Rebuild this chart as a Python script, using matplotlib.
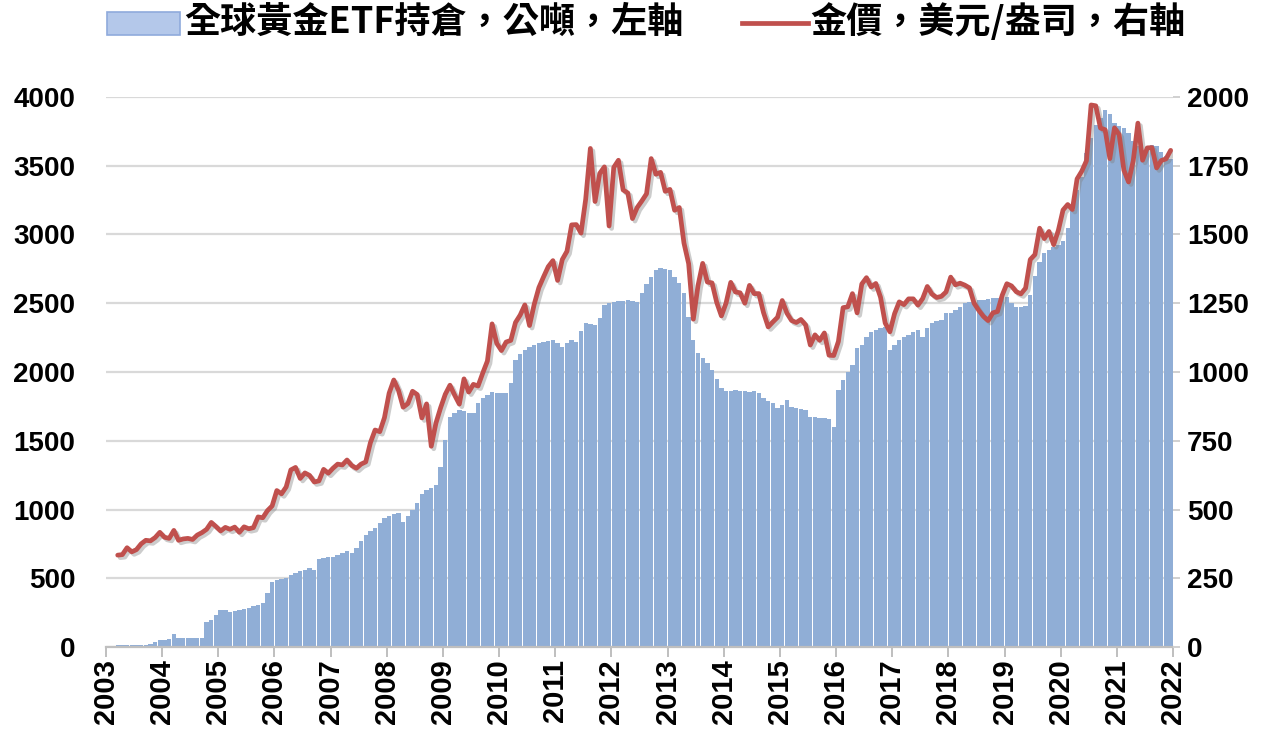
import matplotlib
matplotlib.use("Agg")
import matplotlib.pyplot as plt
import matplotlib.patheffects as pe
from matplotlib.patches import Rectangle
from matplotlib.lines import Line2D
import numpy as np

# ---------------------------------------------------------------
# data (monthly)
# ---------------------------------------------------------------
year_labels = [str(y) for y in range(2003, 2023)]

# global gold ETF holdings, tonnes, monthly from Feb 2003
etf_start_month = 1   # months after Jan 2003
etf_holdings = [
    8, 12, 14, 15, 15, 15, 15, 15, 20, 40, 48,                          # 2003
    50, 55, 95, 68, 65, 65, 65, 65, 68, 184, 200, 233,                  # 2004
    270, 268, 257, 262, 270, 278, 285, 295, 305, 320, 393, 475,         # 2005
    485, 495, 500, 524, 540, 550, 560, 573, 560, 640, 650, 655,         # 2006
    657, 670, 685, 700, 684, 720, 770, 815, 845, 865, 900, 938,         # 2007
    950, 965, 975, 911, 950, 996, 1047, 1110, 1140, 1156, 1178, 1311,   # 2008
    1505, 1675, 1700, 1724, 1720, 1705, 1700, 1773, 1810, 1833, 1857, 1850,  # 2009
    1845, 1850, 1918, 2087, 2130, 2160, 2180, 2196, 2210, 2221, 2228, 2233,  # 2010
    2210, 2184, 2210, 2233, 2221, 2300, 2356, 2350, 2342, 2390, 2487, 2500,  # 2011
    2512, 2518, 2520, 2524, 2518, 2512, 2575, 2640, 2694, 2740, 2754, 2750,  # 2012
    2742, 2690, 2645, 2575, 2400, 2230, 2140, 2100, 2065, 2015, 1950, 1884,  # 2013
    1865, 1860, 1870, 1865, 1860, 1855, 1860, 1845, 1811, 1790, 1773, 1738,  # 2014
    1760, 1796, 1748, 1740, 1730, 1724, 1675, 1670, 1665, 1665, 1660, 1602,  # 2015
    1869, 1942, 2000, 2051, 2173, 2200, 2254, 2290, 2305, 2320, 2330, 2160,  # 2016
    2200, 2233, 2254, 2270, 2290, 2305, 2254, 2320, 2356, 2370, 2378, 2429,  # 2017
    2430, 2450, 2473, 2500, 2510, 2520, 2524, 2524, 2530, 2540, 2540, 2545,  # 2018
    2548, 2500, 2476, 2476, 2480, 2560, 2700, 2800, 2865, 2890, 2911, 2920,  # 2019
    2950, 3050, 3178, 3323, 3420, 3590, 3700, 3800, 3850, 3905, 3880, 3811,  # 2020
    3790, 3775, 3740, 3680, 3640, 3600, 3620, 3650, 3640, 3600, 3570, 3550,  # 2021
]

# gold price, USD/oz, monthly from Mar 2003
gold_start_month = 2
gold_price = [
    334, 336, 361, 346, 354, 375, 388, 386, 398, 417,                   # 2003
    399, 395, 424, 388, 393, 395, 391, 407, 416, 428, 453, 438,         # 2004
    422, 435, 428, 436, 417, 437, 430, 434, 473, 470, 496, 513,         # 2005
    569, 557, 582, 644, 653, 613, 633, 624, 600, 604, 646, 632,         # 2006
    650, 665, 662, 680, 660, 650, 665, 673, 743, 789, 783, 834,         # 2007
    923, 971, 933, 872, 885, 930, 918, 833, 884, 730, 814, 870,         # 2008
    919, 952, 916, 883, 975, 927, 955, 949, 996, 1040, 1175, 1104,      # 2009
    1078, 1109, 1115, 1180, 1207, 1244, 1169, 1246, 1307, 1346, 1383, 1405,  # 2010
    1333, 1409, 1439, 1535, 1536, 1505, 1628, 1813, 1620, 1722, 1746, 1531,  # 2011
    1744, 1770, 1662, 1651, 1558, 1598, 1622, 1648, 1776, 1719, 1726, 1657,  # 2012
    1664, 1588, 1598, 1469, 1394, 1192, 1314, 1395, 1327, 1324, 1253, 1204,  # 2013
    1251, 1326, 1291, 1288, 1250, 1315, 1285, 1285, 1216, 1164, 1182, 1199,  # 2014
    1260, 1214, 1187, 1180, 1191, 1171, 1098, 1135, 1115, 1142, 1061, 1060,  # 2015
    1111, 1234, 1237, 1285, 1215, 1320, 1343, 1309, 1322, 1272, 1178, 1146,  # 2016
    1212, 1255, 1245, 1266, 1266, 1243, 1267, 1311, 1283, 1271, 1275, 1291,  # 2017
    1345, 1317, 1323, 1316, 1306, 1250, 1224, 1202, 1187, 1215, 1220, 1279,  # 2018
    1321, 1313, 1292, 1284, 1305, 1409, 1427, 1523, 1485, 1511, 1463, 1515,  # 2019
    1589, 1609, 1591, 1702, 1730, 1768, 1971, 1968, 1887, 1881, 1776, 1888,  # 2020
    1863, 1734, 1691, 1768, 1905, 1770, 1815, 1816, 1742, 1769, 1775, 1806,  # 2021
]

etf_label = "全球黃金ETF持倉，公噸，左軸"
gold_label = "金價，美元/盎司，右軸"

# ---------------------------------------------------------------
# plot
# ---------------------------------------------------------------
num_font = "Liberation Sans"
cjk_font = ["Noto Sans CJK TC", "DejaVu Sans"]
bar_color = "#90AED6"
line_color = "#C0504D"
grid_color = "#D9D9D9"

W, H = 1280, 742
fig = plt.figure(figsize=(W / 100, H / 100), dpi=100)
ax = fig.add_axes([106 / W, 1 - 647 / H, (1173 - 106) / W, (647 - 97) / H])
ax2 = ax.twinx()

x_etf = np.arange(len(etf_holdings)) + etf_start_month + 0.5
x_gold = np.arange(len(gold_price)) + gold_start_month + 0.5

ax.bar(x_etf, etf_holdings, width=0.93, color=bar_color, linewidth=0, zorder=2)
ax2.plot(x_gold, gold_price, color=line_color, linewidth=3.4, solid_joinstyle="round",
         solid_capstyle="round", zorder=3,
         path_effects=[pe.SimpleLineShadow(offset=(1.8, -1.8), shadow_color="#808080", alpha=0.4),
                       pe.Normal()])

ax.set_xlim(0, 228)
ax.set_ylim(0, 4000)
ax2.set_ylim(0, 2000)
ax.set_yticks(np.arange(0, 4001, 500))
ax2.set_yticks(np.arange(0, 2001, 250))
ax.set_xticks(np.arange(0, 229, 12))
ax.set_xticklabels(year_labels, rotation=90)

ax.grid(axis="y", color=grid_color, linewidth=1.6, zorder=0)
ax.set_axisbelow(True)

for a in (ax, ax2):
    for s in ("top", "left", "right"):
        a.spines[s].set_visible(False)
ax2.spines["bottom"].set_visible(False)
ax.spines["bottom"].set_color("#BFBFBF")
ax.spines["bottom"].set_linewidth(1.6)
ax.spines["bottom"].set_zorder(4)

ax.tick_params(axis="y", length=0, pad=22)
ax.tick_params(axis="x", length=7, width=1.4, color="#BFBFBF", pad=2)
ax2.tick_params(axis="y", length=5, width=1.4, color="#D0D0D0", pad=5)

for lab in ax.get_yticklabels() + ax2.get_yticklabels():
    lab.set_fontfamily(num_font)
    lab.set_fontweight("bold")
    lab.set_fontsize(20)
for lab in ax.get_xticklabels():
    lab.set_fontfamily(num_font)
    lab.set_fontweight("bold")
    lab.set_fontsize(21)

# legend drawn by hand at the top
fig.patches.append(Rectangle((107 / W, 1 - 35 / H), 73 / W, 23 / H, transform=fig.transFigure,
                             facecolor="#B4C8EA", edgecolor="#8FAADC", linewidth=1.2))
fig.text(184 / W, 1 - 22 / H, etf_label, family=cjk_font, fontsize=26, fontweight="bold",
         va="center", ha="left")
fig.lines.append(Line2D([742 / W, 808 / W], [1 - 23 / H, 1 - 23 / H], transform=fig.transFigure,
                        color=line_color, linewidth=3.4))
fig.text(810 / W, 1 - 22 / H, gold_label, family=cjk_font, fontsize=26, fontweight="bold",
         va="center", ha="left")

fig.savefig("out.png", dpi=100)
